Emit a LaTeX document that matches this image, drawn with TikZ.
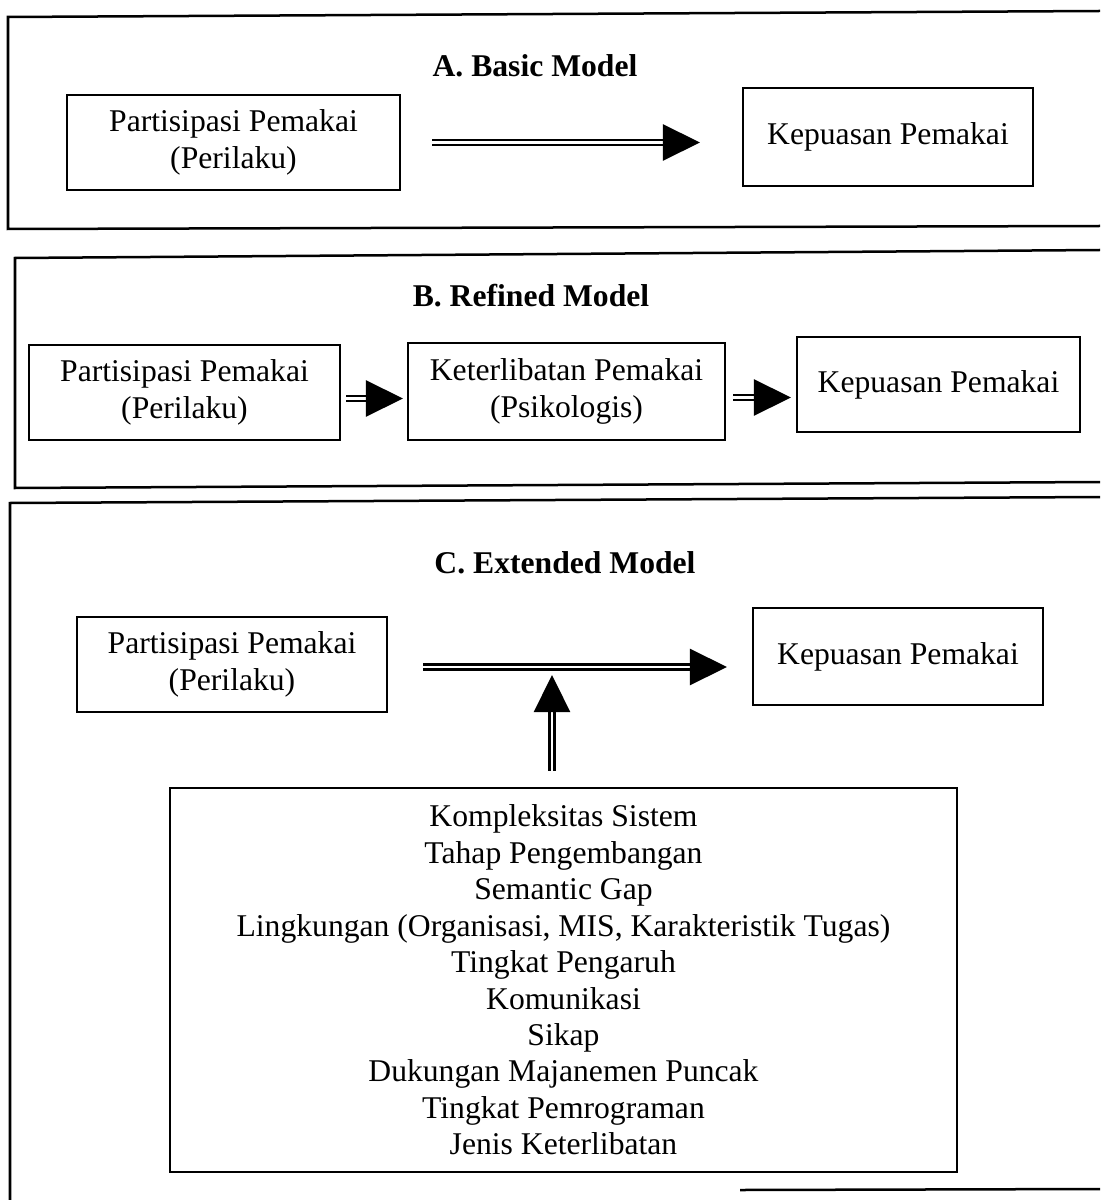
\documentclass[tikz,border=0pt]{standalone}
\usepackage{fontspec}
\setmainfont{Liberation Serif}
\usetikzlibrary{arrows.meta}
\begin{document}
\begin{tikzpicture}[x=0.025cm,y=-0.025cm,
  every node/.style={font=\fontsize{22.5}{26.5}\selectfont},
  frame/.style={line width=0.0625cm},
  boxnode/.style={draw,line width=0.05cm,align=center,inner sep=0pt},
  title/.style={font=\fontsize{22.5}{26.5}\selectfont\bfseries},
  dbl/.style={double,double distance=0.07cm,line width=0.06cm,
    -{Triangle[length=0.925cm,width=0.9cm]}}]
\useasboundingbox[fill=white] (0,0) rectangle (1100,1200);

% Panel frames
\draw[frame] (1100,11) -- (8,17) -- (8,229) -- (1100,226);
\draw[frame] (1100,250) -- (15,258) -- (15,488) -- (1100,482);
\draw[frame] (1100,497) -- (10,503) -- (10,1200);
\draw[frame] (740,1190) -- (1100,1189);

% A. Basic Model
\node[title] (tA) at (535,66) {A. Basic Model};
\node[boxnode,minimum width=8.325cm,minimum height=2.375cm] (A1) at (233.5,142.5)
  {Partisipasi Pemakai\\(Perilaku)};
\node[boxnode,minimum width=7.25cm,minimum height=2.45cm] (A2) at (888,137)
  {Kepuasan Pemakai};
\draw[dbl,shorten <=0.775cm,shorten >=1.05cm] (A1.east) -- (A1.east -| A2.west);

% B. Refined Model
\node[title] (tB) at (531,296) {B. Refined Model};
\node[boxnode,minimum width=7.775cm,minimum height=2.375cm] (B1) at (184.5,392.5)
  {Partisipasi Pemakai\\(Perilaku)};
\node[boxnode,minimum width=7.925cm,minimum height=2.425cm] (B2) at (566.5,391.5)
  {Keterlibatan Pemakai\\(Psikologis)};
\node[boxnode,minimum width=7.075cm,minimum height=2.375cm] (B3) at (938.5,384.5)
  {Kepuasan Pemakai};
\draw[dbl,shorten <=0.125cm,shorten >=0.1cm] ([yshift=-0.15cm]B1.east) -- ([yshift=-0.15cm]B1.east -| B2.west);
\draw[dbl,shorten <=0.175cm,shorten >=0.125cm] ([yshift=-0.15cm]B2.east) -- ([yshift=-0.15cm]B2.east -| B3.west);

% C. Extended Model
\node[title] (tC) at (565,563) {C. Extended Model};
\node[boxnode,minimum width=7.75cm,minimum height=2.375cm] (C1) at (232,664.5)
  {Partisipasi Pemakai\\(Perilaku)};
\node[boxnode,minimum width=7.25cm,minimum height=2.425cm] (C2) at (898,656.5)
  {Kepuasan Pemakai};
\node[boxnode,minimum width=19.675cm,minimum height=9.6cm,font=\fontsize{22.5}{25.9}\selectfont] (C3) at (563.5,980)
  {Kompleksitas Sistem\\Tahap Pengembangan\\Semantic Gap\\Lingkungan (Organisasi, MIS, Karakteristik Tugas)\\Tingkat Pengaruh\\Komunikasi\\Sikap\\Dukungan Majanemen Puncak\\Tingkat Pemrograman\\Jenis Keterlibatan};
\draw[dbl,shorten <=0.875cm,shorten >=0.625cm] ([yshift=-0.0625cm]C1.east) -- ([yshift=-0.0625cm]C1.east -| C2.west);
\draw[dbl,shorten <=0.4cm,shorten >=0.2625cm] ([xshift=-0.2875cm]C3.north) -- ([xshift=-0.2875cm]C3.north |- C1.east);
\end{tikzpicture}
\end{document}
